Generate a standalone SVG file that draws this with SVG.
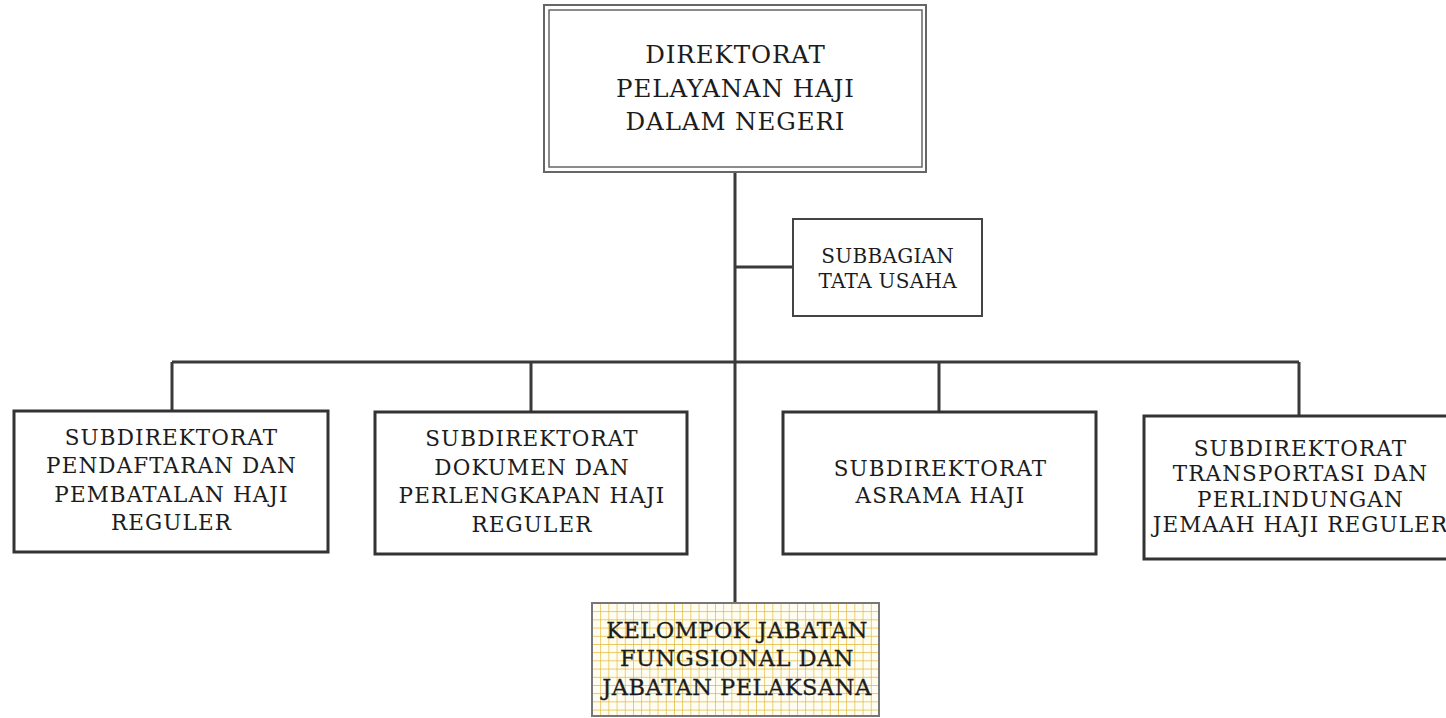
<svg xmlns="http://www.w3.org/2000/svg" width="1446" height="718" viewBox="0 0 1446 718">
<defs>
<style>
.t{font-family:"DejaVu Serif","Liberation Serif",serif;fill:#1c1c1c;text-anchor:middle}
.s{font-size:21.5px;letter-spacing:1.1px}
.box{fill:#fff;stroke:#333;stroke-width:3}
.conn{stroke:#3a3a3a;stroke-width:3;fill:none}
</style>
<pattern id="grid" x="592" y="603" width="8.2" height="8.2" patternUnits="userSpaceOnUse">
<rect width="8.2" height="8.2" fill="#fffdf2"/>
<path d="M0 0H8.2M0 0V8.2" stroke="#e0b42c" stroke-width="1.3" fill="none"/>
</pattern>
</defs>
<rect width="1446" height="718" fill="#fff"/>
<g id="connectors">
<path class="conn" d="M735 172V603"/>
<path class="conn" d="M735 267H793"/>
<path class="conn" d="M172 362H1299"/>
<path class="conn" d="M172 362V411M531 362V412M939 362V412M1299 362V416"/>
</g>
<g id="direktorat">
<rect x="544" y="5" width="382" height="167" fill="#fff" stroke="#666" stroke-width="2"/>
<rect x="549" y="10" width="373" height="157" fill="none" stroke="#666" stroke-width="1.5"/>
<text class="t" font-size="24.5" letter-spacing="0.9"><tspan x="735.5" y="63">DIREKTORAT</tspan><tspan x="735.5" y="97">PELAYANAN HAJI</tspan><tspan x="735.5" y="130">DALAM NEGERI</tspan></text>
</g>
<g id="subbagian">
<rect x="793" y="219" width="189" height="97" fill="#fff" stroke="#444" stroke-width="2"/>
<text class="t" font-size="20" letter-spacing="0.3"><tspan x="887.7" y="263">SUBBAGIAN</tspan><tspan x="887.7" y="288">TATA USAHA</tspan></text>
</g>
<g id="sub1">
<rect class="box" x="14" y="411" width="314" height="141"/>
<text class="t s"><tspan x="171.5" y="445">SUBDIREKTORAT</tspan><tspan x="171.5" y="473">PENDAFTARAN DAN</tspan><tspan x="171.5" y="502">PEMBATALAN HAJI</tspan><tspan x="171.5" y="530">REGULER</tspan></text>
</g>
<g id="sub2">
<rect class="box" x="375" y="412" width="312" height="142"/>
<text class="t s"><tspan x="532" y="446">SUBDIREKTORAT</tspan><tspan x="532" y="475">DOKUMEN DAN</tspan><tspan x="532" y="503">PERLENGKAPAN HAJI</tspan><tspan x="532" y="532">REGULER</tspan></text>
</g>
<g id="sub3">
<rect class="box" x="783" y="412" width="313" height="142"/>
<text class="t s"><tspan x="940.5" y="476">SUBDIREKTORAT</tspan><tspan x="940.5" y="503">ASRAMA HAJI</tspan></text>
</g>
<g id="sub4">
<rect class="box" x="1144" y="416" width="320" height="143"/>
<text class="t s" letter-spacing="1.3"><tspan x="1300.5" y="456">SUBDIREKTORAT</tspan><tspan x="1300.5" y="481">TRANSPORTASI DAN</tspan><tspan x="1300.5" y="507">PERLINDUNGAN</tspan><tspan x="1300.5" y="532">JEMAAH HAJI REGULER</tspan></text>
</g>
<g id="kelompok">
<rect x="592" y="603" width="287" height="113" fill="url(#grid)" stroke="#777" stroke-width="2"/>
<text class="t" font-size="22.5" letter-spacing="0.5" stroke="#1c1c1c" stroke-width="0.3"><tspan x="737" y="638">KELOMPOK JABATAN</tspan><tspan x="737" y="666">FUNGSIONAL DAN</tspan><tspan x="737" y="695">JABATAN PELAKSANA</tspan></text>
</g>
</svg>
